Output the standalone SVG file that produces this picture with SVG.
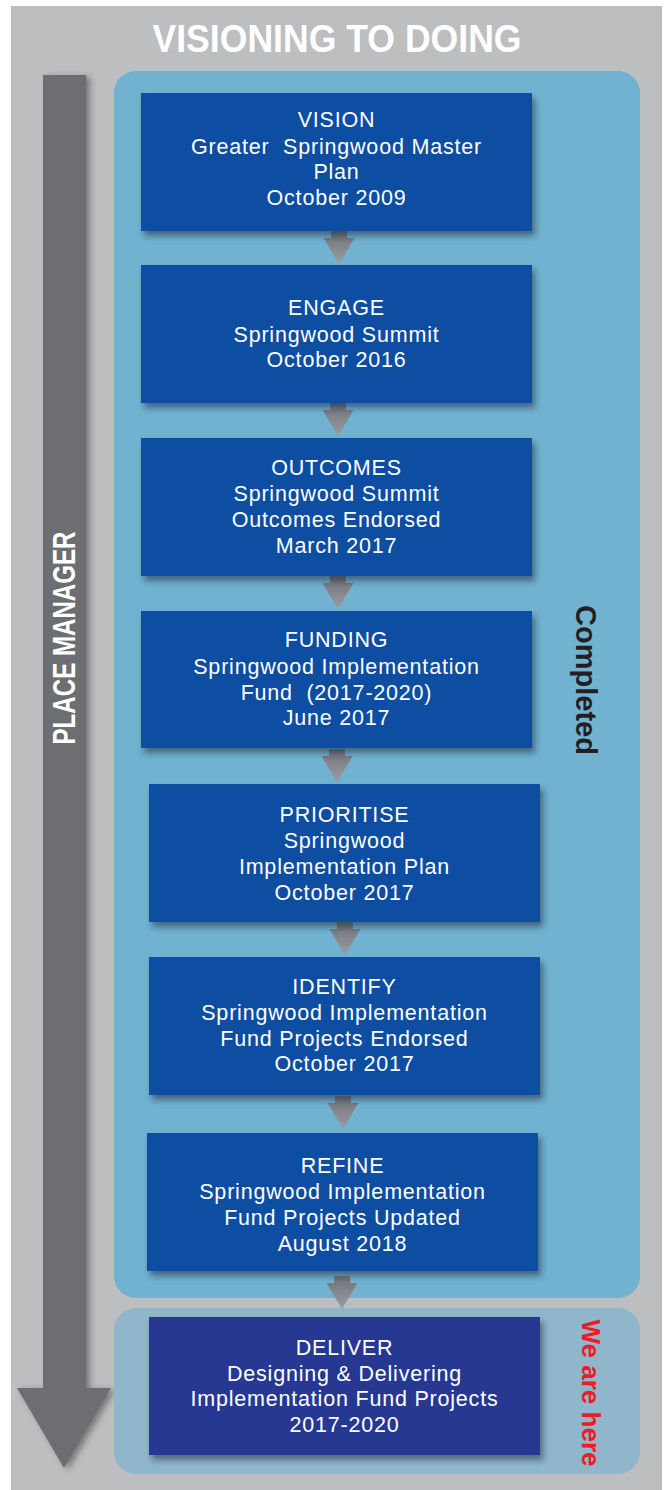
<svg xmlns="http://www.w3.org/2000/svg" xmlns:xlink="http://www.w3.org/1999/xlink" width="667" height="1490" viewBox="0 0 667 1490">
<defs>
<style>
.box{fill:#0e4ea2;filter:url(#sh)}
.box2{fill:#283891;filter:url(#sh)}
.t{font-family:"Liberation Sans",Arial,sans-serif;font-size:21.5px;letter-spacing:0.8px;fill:#ffffff;text-anchor:middle}
.con{fill:url(#ag)}
</style>
<filter id="sh" x="-10%" y="-10%" width="125%" height="130%">
<feDropShadow dx="3" dy="5" stdDeviation="3" flood-color="#1a2a40" flood-opacity="0.55"/>
</filter>
<filter id="sh2" x="-20%" y="-5%" width="150%" height="110%">
<feDropShadow dx="4" dy="2" stdDeviation="3" flood-color="#333" flood-opacity="0.5"/>
</filter>
<linearGradient id="ag" x1="0" y1="0" x2="0" y2="1">
<stop offset="0" stop-color="#6f7175"/>
<stop offset="1" stop-color="#9a9da1"/>
</linearGradient>
<path id="arr" d="M-8,0 H8 V7 H15.5 L0,33 L-15.5,7 H-8 Z"/>
</defs>
<rect x="11" y="6" width="651" height="1484" fill="#bcbec0"/>
<text x="337" y="52" font-family="Liberation Sans,sans-serif" font-weight="bold" font-size="39" fill="#ffffff" text-anchor="middle" textLength="369" lengthAdjust="spacingAndGlyphs">VISIONING TO DOING</text>
<g id="place-manager">
<path d="M43,75 H86 V1388 H111 L64,1468 L17,1388 H43 Z" fill="#6d6e71" filter="url(#sh2)"/>
<text transform="translate(75,638) rotate(-90)" font-family="Liberation Sans,sans-serif" font-weight="bold" font-size="32" fill="#ffffff" text-anchor="middle" textLength="213" lengthAdjust="spacingAndGlyphs">PLACE MANAGER</text>
</g>
<g id="completed-panel">
<rect x="114" y="71" width="526" height="1227" rx="22" fill="#70b2d0"/>
<text transform="translate(576,680) rotate(90)" font-family="Liberation Sans,sans-serif" font-weight="bold" font-size="29" fill="#231f20" text-anchor="middle">Completed</text>
</g>
<g id="here-panel">
<rect x="114" y="1308" width="526" height="166" rx="22" fill="#8fb6ca"/>
<text transform="translate(582,1393) rotate(90)" font-family="Liberation Sans,sans-serif" font-weight="bold" font-size="26" fill="#ed1c24" text-anchor="middle">We are here</text>
</g>
<g id="connectors" class="con">
<use xlink:href="#arr" x="339" y="231"/>
<use xlink:href="#arr" x="338" y="403"/>
<use xlink:href="#arr" x="338" y="576"/>
<use xlink:href="#arr" x="337" y="749"/>
<use xlink:href="#arr" x="345" y="922"/>
<use xlink:href="#arr" x="343" y="1096"/>
<use xlink:href="#arr" x="342" y="1276"/>
</g>
<g id="vision">
<rect class="box" x="141" y="93" width="391" height="138"/>
<text class="t" x="336.5" y="127">VISION</text>
<text class="t" x="336.5" y="154">Greater&#160; Springwood Master</text>
<text class="t" x="336.5" y="179">Plan</text>
<text class="t" x="336.5" y="205">October 2009</text>
</g>
<g id="engage">
<rect class="box" x="141" y="265" width="391" height="138"/>
<text class="t" x="336.5" y="315">ENGAGE</text>
<text class="t" x="336.5" y="342">Springwood Summit</text>
<text class="t" x="336.5" y="367">October 2016</text>
</g>
<g id="outcomes">
<rect class="box" x="141" y="438" width="391" height="138"/>
<text class="t" x="336.5" y="475">OUTCOMES</text>
<text class="t" x="336.5" y="501">Springwood Summit</text>
<text class="t" x="336.5" y="527">Outcomes Endorsed</text>
<text class="t" x="336.5" y="553">March 2017</text>
</g>
<g id="funding">
<rect class="box" x="141" y="611" width="391" height="137"/>
<text class="t" x="336.5" y="647">FUNDING</text>
<text class="t" x="336.5" y="674">Springwood Implementation</text>
<text class="t" x="336.5" y="700">Fund&#160; (2017-2020)</text>
<text class="t" x="336.5" y="725">June 2017</text>
</g>
<g id="prioritise">
<rect class="box" x="149" y="784" width="391" height="138"/>
<text class="t" x="344.5" y="822">PRIORITISE</text>
<text class="t" x="344.5" y="848">Springwood</text>
<text class="t" x="344.5" y="874">Implementation Plan</text>
<text class="t" x="344.5" y="900">October 2017</text>
</g>
<g id="identify">
<rect class="box" x="149" y="957" width="391" height="138"/>
<text class="t" x="344.5" y="994">IDENTIFY</text>
<text class="t" x="344.5" y="1020">Springwood Implementation</text>
<text class="t" x="344.5" y="1046">Fund Projects Endorsed</text>
<text class="t" x="344.5" y="1071">October 2017</text>
</g>
<g id="refine">
<rect class="box" x="147" y="1133" width="391" height="138"/>
<text class="t" x="342.5" y="1173">REFINE</text>
<text class="t" x="342.5" y="1199">Springwood Implementation</text>
<text class="t" x="342.5" y="1225">Fund Projects Updated</text>
<text class="t" x="342.5" y="1251">August 2018</text>
</g>
<g id="deliver">
<rect class="box2" x="149" y="1317" width="391" height="138"/>
<text class="t" x="344.5" y="1355">DELIVER</text>
<text class="t" x="344.5" y="1381">Designing &amp; Delivering</text>
<text class="t" x="344.5" y="1406">Implementation Fund Projects</text>
<text class="t" x="344.5" y="1432">2017-2020</text>
</g>
</svg>
